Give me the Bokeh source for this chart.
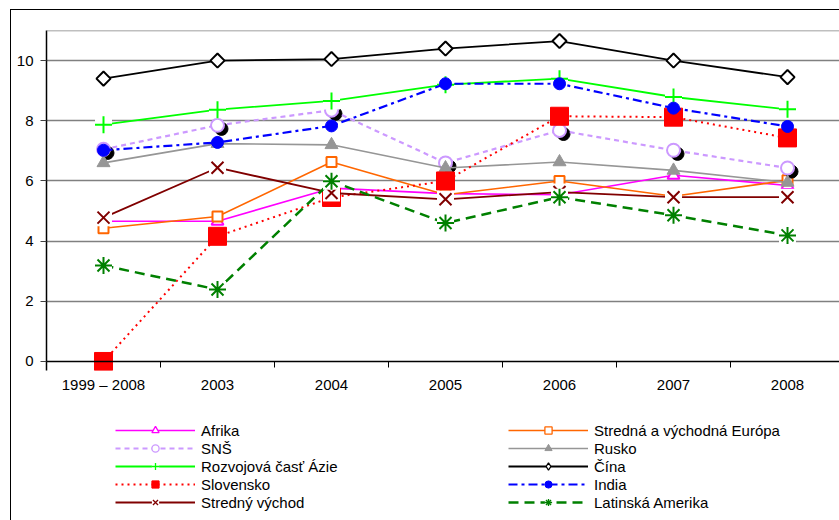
import numpy as np
from bokeh.plotting import figure
from bokeh.layouts import column
from bokeh.models import (Range1d, FixedTicker, Legend, LegendItem, Span,
                          ColumnDataSource)
from bokeh.transform import dodge
from bokeh.embed import file_html
from bokeh.resources import INLINE

# ---- data -------------------------------------------------------------
categories = ["1999 – 2008", "2003", "2004", "2005", "2006", "2007", "2008"]

afrika = [4.66, 4.66, 5.76, 5.58, 5.54, 6.19, 5.85]
stredna_vychodna_europa = [4.43, 4.82, 6.63, 5.54, 6.00, 5.49, 6.02]
sns = [7.05, 7.85, 8.35, 6.60, 7.68, 7.02, 6.43]
rusko = [6.60, 7.24, 7.20, 6.43, 6.63, 6.35, 5.95]
rozvojova_azia = [7.87, 8.37, 8.66, 9.20, 9.40, 8.79, 8.38]
cina = [9.40, 10.00, 10.05, 10.40, 10.65, 10.00, 9.45]
slovensko = [0.00, 4.16, 5.45, 6.00, 8.15, 8.12, 7.43]
india = [7.02, 7.28, 7.83, 9.23, 9.23, 8.42, 7.81]
stredny_vychod = [4.78, 6.44, 5.60, 5.39, 5.63, 5.46, 5.46]
latinska_amerika = [3.19, 2.39, 5.99, 4.60, 5.46, 4.86, 4.19]

y_ticks = [0, 2, 4, 6, 8, 10]
y_max = 11

FONT = "Liberation Sans"
FSIZE = "15px"

x = [i + 0.5 for i in range(len(categories))]

# ---- main chart ---------------------------------------------------------
p = figure(width=828, height=401, output_backend="svg", toolbar_location=None,
           x_range=Range1d(0, len(categories) - 0.044),
           y_range=Range1d(-0.3, y_max),
           min_border_left=35, min_border_right=0, min_border_top=20,
           min_border_bottom=41)
p.outline_line_color = None
p.background_fill_color = "white"
p.border_fill_color = "white"

# x axis: labels in the middle of each category, tick marks between them
p.xaxis.ticker = FixedTicker(ticks=x, minor_ticks=list(range(len(categories) + 1)))
p.xaxis.major_label_overrides = {float(xi): c for xi, c in zip(x, categories)}
p.xaxis.major_tick_line_color = None
p.xaxis.major_tick_out = 0
p.xaxis.major_tick_in = 0
p.xaxis.minor_tick_in = 9
p.xaxis.minor_tick_out = -3
p.xaxis.minor_tick_line_color = "black"
p.xaxis.minor_tick_line_width = 1
p.xaxis.axis_line_color = None
p.xaxis.major_label_standoff = 5
p.xaxis.major_label_text_font = FONT
p.xaxis.major_label_text_font_size = FSIZE
p.xaxis.major_label_text_color = "black"

p.yaxis.ticker = FixedTicker(ticks=y_ticks)
p.yaxis.major_tick_in = 0
p.yaxis.major_tick_out = 6
p.yaxis.major_tick_line_color = "#404040"
p.yaxis.minor_tick_line_color = None
p.yaxis.axis_line_color = "black"
p.yaxis.axis_line_width = 1.5
p.yaxis.major_label_standoff = 7
p.yaxis.major_label_text_font = FONT
p.yaxis.major_label_text_font_size = FSIZE
p.yaxis.major_label_text_color = "black"

p.xgrid.visible = False
p.ygrid.ticker = FixedTicker(ticks=[t for t in y_ticks if t > 0])
p.ygrid.grid_line_color = "#808080"
p.ygrid.grid_line_width = 1.5

# zero baseline and top border of the plot area
p.add_layout(Span(location=0, dimension="width", line_color="black", line_width=1.5))
p.add_layout(Span(location=y_max, dimension="width", line_color="#808080", line_width=1.5))

# ---- series -------------------------------------------------------------
series = [
    # label, values, color, dash, width, marker, size, fill, white backing
    ("Afrika", afrika, "#FF00FF", "solid", 1.6, "triangle", 12, "white", False),
    ("Stredná a východná Európa", stredna_vychodna_europa, "#FF6600", "solid", 1.6, "square", 10, "white", False),
    ("SNŠ", sns, "#CC99FF", "5 4", 2.2, "circle", 13, "white", False),
    ("Rusko", rusko, "#969696", "solid", 1.6, "triangle", 13, "#969696", False),
    ("Rozvojová časť Ázie", rozvojova_azia, "#00FF00", "solid", 1.8, "cross", 17, None, True),
    ("Čína", cina, "black", "solid", 1.8, "square", 10, "white", False),
    ("Slovensko", slovensko, "#FF0000", "2 4", 2.0, "square", 18, "#FF0000", False),
    ("India", india, "#0000FF", "9 4 3 4", 2.2, "circle", 12, "#0000FF", False),
    ("Stredný východ", stredny_vychod, "#800000", "solid", 1.8, "x", 17, None, True),
    ("Latinská Amerika", latinska_amerika, "#008000", "10 6", 2.5, "asterisk", 17, None, True),
]


def draw_series(fig, src, color, dash, lw, marker, size, fill, backing, angle, mlw):
    rs = [fig.line("x", "y", source=src, line_color=color, line_dash=dash, line_width=lw)]
    if backing:
        rs.append(fig.scatter("x", "y", source=src, marker="square", size=size,
                              fill_color="white", line_color=None))
    rs.append(fig.scatter("x", "y", source=src, marker=marker, size=size, angle=angle,
                          fill_color=fill if fill else None, line_color=color,
                          line_width=mlw if fill in (None, "white") else 1))
    return rs


# legend panel below the chart; its copies of the series lie outside its view
lg = figure(width=828, height=109, output_backend="svg", toolbar_location=None,
            x_range=Range1d(100, 101), y_range=Range1d(100, 101),
            min_border=0)
lg.outline_line_color = None
lg.axis.visible = False
lg.grid.visible = False

items = {}
for label, vals, color, dash, lw, marker, size, fill, backing in series:
    src = ColumnDataSource(dict(x=x, y=vals))
    is_diamond = label == "Čína"
    if label == "SNŠ":
        # offset dark shadow under the hollow circles
        p.scatter(x=dodge("x", 0.035, range=p.x_range), y=dodge("y", -0.12, range=p.y_range),
                  source=src, marker="circle", size=size, fill_color="black",
                  line_color="black")
    draw_series(p, src, color, dash, lw, marker, size, fill, backing,
                np.pi / 4 if is_diamond else 0, 2)
    rs = draw_series(lg, src, color, dash, lw, "diamond" if is_diamond else marker,
                     size, fill, backing, 0, 1.3)
    items[label] = LegendItem(label=label, renderers=rs)

left_labels = ["Afrika", "SNŠ", "Rozvojová časť Ázie", "Slovensko", "Stredný východ"]
right_labels = ["Stredná a východná Európa", "Rusko", "Čína", "India", "Latinská Amerika"]

legend = Legend(items=[items[l] for l in left_labels + right_labels],
                ncols=2, orientation="vertical", location=(69, 9),
                border_line_color=None, background_fill_alpha=0, padding=0, margin=0,
                spacing=0, glyph_width=80, glyph_height=18, label_height=18,
                label_width=307, label_standoff=6, label_text_font=FONT,
                label_text_font_size=FSIZE, label_text_color="black")
lg.add_layout(legend, "center")

layout = column(p, lg, spacing=0,
                styles={"margin-left": "10px", "margin-top": "9px",
                        "border-left": "1px solid black", "border-top": "1px solid black"})

open("out.html", "w").write(file_html(layout, INLINE))
